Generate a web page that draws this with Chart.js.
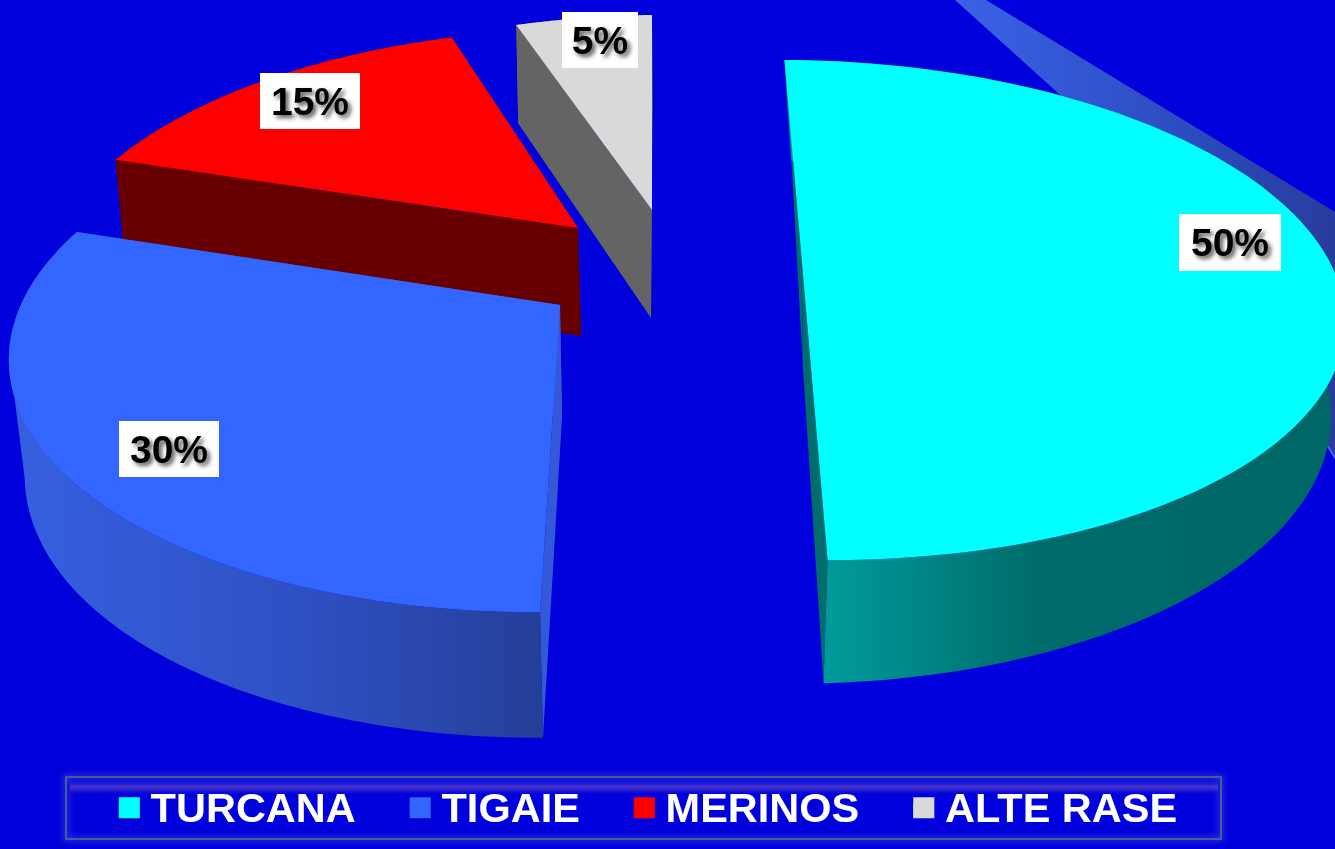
<!DOCTYPE html>
<html>
<head>
<meta charset="utf-8">
<style>html,body{margin:0;padding:0;background:#0000DC;overflow:hidden}canvas{display:block}</style>
<script src="https://cdn.jsdelivr.net/npm/chart.js@4"></script>
</head>
<body>
<canvas id="c" width="1335" height="849"></canvas>
<script>
const categories = ["TURCANA", "TIGAIE", "MERINOS", "ALTE RASE"];
const shares = [50, 30, 15, 5];
const sliceColors = ["#00FFFF", "#3366FF", "#FF0000", "#D9D9D9"];

/* Perspective view of every exploded slice: apex, right/up axes, foreshortening, extrusion */
const sliceViews = [
  {cx:801.5, cy:257.5, Rx:527, Ry:2,  Tx:-20.6, Ty:-239, q:.21, D:111, dk:.17, k0:1.5, kx:-15, ky:5.5, cut:"#006C6C",
   rim:[[826,"#009A9A"],[1040,"#006B6B"],[1335,"#006666"]]},
  {cx:560, cy:305,   Rx:540, Ry:-2, Tx:16.6,  Ty:-255, q:.17, D:113, dk:0, k0:2,   kx:-14,  ky:-1,  cut:"#3358D8",
   rim:[[10,"#3560E0"],[300,"#2F50C4"],[540,"#243F98"]], patch:[[10,362],[28.5,508],[70,470]]},
  {cx:578, cy:228,   Rx:521, Ry:-2, Tx:10,    Ty:-241, q:.21, D:108, dk:0, k0:3,   kx:-7,   ky:0,   cut:"#660000",
   rim:[[0,"#660000"],[600,"#660000"]]},
  {cx:652, cy:210,   Rx:527, Ry:-8, Tx:0,     Ty:-236, q:.21, D:108, dk:0, k0:-1,  kx:-5,   ky:1.5, cut:"#646464",
   rim:[[500,"#646464"],[660,"#646464"]]}
];
const labelBoxes = [[1179,214,102,57],[119,421,100,56],[260,73,100,56],[562,12,76,56]];
const drawOrder = [3,2,1,0];

const proj = (v,x,y) => { const w = 1+v.q*y; return [v.cx+(x*v.Rx+y*v.Tx)/w, v.cy+(x*v.Ry+y*v.Ty)/w]; };
const low = (v,x,y) => { const p = proj(v,x,y); return [p[0]+v.k0+v.kx*x+v.ky*y, p[1]+v.D*(1-v.dk*x)/(1+.1*y)]; };
const poly = (ctx,pts,fill) => { ctx.beginPath(); pts.forEach((p,i)=> i?ctx.lineTo(p[0],p[1]):ctx.moveTo(p[0],p[1])); ctx.closePath(); ctx.fillStyle=fill; ctx.fill(); };

const scene = {
  id:'scene',
  beforeDraw(chart){
    const ctx = chart.ctx;
    ctx.save(); ctx.fillStyle='#0000DC'; ctx.fillRect(0,0,chart.width,chart.height);
    /* legend frame */
    ctx.shadowColor='#8070D8'; ctx.shadowBlur=7;
    ctx.strokeStyle='#3A6296'; ctx.lineWidth=2;
    ctx.strokeRect(66,777,1155,62);
    ctx.shadowBlur=0;
    const g=ctx.createLinearGradient(0,781,0,794);
    g.addColorStop(0,'rgba(80,60,200,0)'); g.addColorStop(.45,'rgba(84,62,200,.85)'); g.addColorStop(1,'rgba(80,60,200,0)');
    ctx.fillStyle=g; ctx.fillRect(70,781,1148,13);
    ctx.restore();
  },
  beforeDatasetsDraw(chart){
    const ctx = chart.ctx;
    const legend = chart.legend;
    /* finish the square legend keys */
    ctx.save();
    legend.legendHitBoxes.forEach((h,i)=>{
      ctx.fillStyle = sliceColors[i];
      ctx.fillRect(h.left, h.top+h.height/2-13, 21, 21);
    });
    /* background ray */
    const g = ctx.createLinearGradient(955,0,1335,0);
    g.addColorStop(0,'#3A62E8'); g.addColorStop(.6,'#2C4CC0'); g.addColorStop(1,'#283C9C');
    poly(ctx,[[955,0],[986,0],[1335,212],[1335,458],[1327,445],[1200,260],[1058,93]],g);
    ctx.strokeStyle='#4A70FF'; ctx.lineWidth=1.5;
    ctx.beginPath(); ctx.moveTo(1327,445); ctx.lineTo(1335,458); ctx.stroke();

    const arcs = chart.getDatasetMeta(0).data;
    drawOrder.forEach(i=>{
      const a = arcs[i], v = sliceViews[i];
      const N = 96, top=[], bot=[];
      for(let k=0;k<=N;k++){
        const t = a.startAngle+(a.endAngle-a.startAngle)*k/N, x=Math.cos(t), y=-Math.sin(t);
        top.push(proj(v,x,y)); bot.push(low(v,x,y));
      }
      const ap=proj(v,0,0), ab=low(v,0,0);
      poly(ctx,[ap,top[0],bot[0],ab],v.cut);
      poly(ctx,[ap,top[N],bot[N],ab],v.cut);
      const x0=v.rim[0][0], x1=v.rim[v.rim.length-1][0];
      const rg=ctx.createLinearGradient(x0,0,x1,0);
      v.rim.forEach(s=>rg.addColorStop((s[0]-x0)/(x1-x0),s[1]));
      poly(ctx,top.concat(bot.slice().reverse()),rg);
      if(v.patch) poly(ctx,v.patch,rg);
      poly(ctx,[ap].concat(top),a.options.backgroundColor);
    });
    /* percentage labels */
    const total = shares.reduce((s,n)=>s+n,0);
    ctx.font='bold 39px "Liberation Sans", Arial, sans-serif';
    ctx.textAlign='center'; ctx.textBaseline='middle';
    labelBoxes.forEach((b,i)=>{
      ctx.fillStyle='#FFFFFF'; ctx.fillRect(b[0],b[1],b[2],b[3]);
      ctx.save();
      ctx.shadowColor='rgba(0,0,0,.65)'; ctx.shadowBlur=4; ctx.shadowOffsetX=3; ctx.shadowOffsetY=3;
      ctx.fillStyle='#000000';
      ctx.fillText(Math.round(shares[i]/total*100)+'%', b[0]+b[2]/2, b[1]+b[3]/2+3);
      ctx.restore();
    });
    ctx.restore();
  },
  beforeDatasetDraw(){ return false; }
};

new Chart(document.getElementById('c').getContext('2d'),{
  type:'pie',
  data:{labels:categories,datasets:[{data:shares,backgroundColor:sliceColors,borderWidth:0}]},
  options:{
    responsive:false,animation:false,
    layout:{padding:{right:39,bottom:8}},
    plugins:{
      tooltip:{enabled:false},
      legend:{position:'bottom',labels:{
        boxWidth:11,boxHeight:14,padding:54,color:'#FFFFFF',
        font:{family:'"Liberation Sans", Arial, sans-serif',size:41.5,weight:'bold'}
      }}
    }
  },
  plugins:[scene]
});
</script>
</body>
</html>
